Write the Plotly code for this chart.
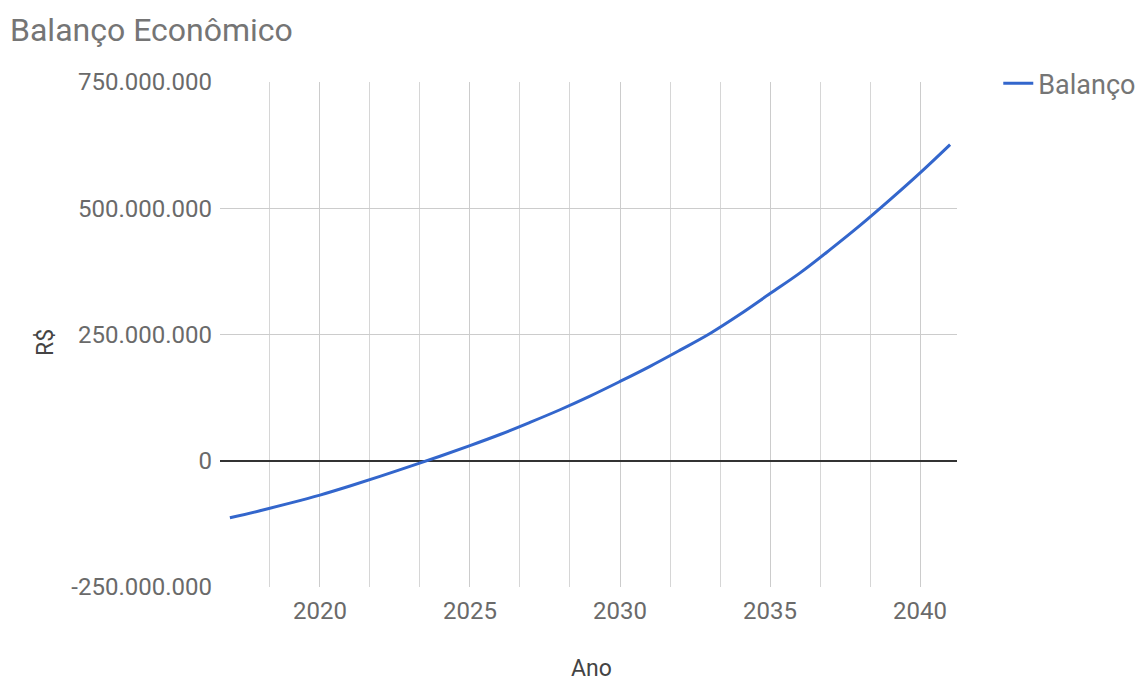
import plotly.graph_objects as go

anos = [2017, 2018, 2019, 2020, 2021, 2022, 2023, 2024, 2025, 2026, 2027, 2028,
        2029, 2030, 2031, 2032, 2033, 2034, 2035, 2036, 2037, 2038, 2039, 2040, 2041]
balanco = [-113_000_000, -99_000_000, -84_000_000, -68_000_000, -50_000_000,
           -31_000_000, -11_000_000, 9_000_000, 30_000_000, 52_000_000,
           76_000_000, 101_000_000, 128_000_000, 157_000_000, 187_000_000,
           219_000_000, 252_000_000, 290_000_000, 331_000_000, 372_000_000,
           418_000_000, 466_000_000, 517_000_000, 570_000_000, 626_000_000]
y_ticks = [-250_000_000, 0, 250_000_000, 500_000_000, 750_000_000]
y_ticktext = ["-250.000.000", "0", "250.000.000", "500.000.000", "750.000.000"]
x_ticks = [2020, 2025, 2030, 2035, 2040]

FONT = "Roboto"
fig = go.Figure()
fig.add_trace(go.Scatter(
    x=anos, y=balanco, mode="lines", name="Balanço",
    line=dict(color="#3366cc", width=3, shape="spline"),
))

fig.update_layout(
    width=1144, height=681,
    paper_bgcolor="white", plot_bgcolor="white",
    margin=dict(l=220, r=187, t=82, b=94, autoexpand=False),
    separators=",.",
    font=dict(family=FONT, size=24, color="#6a6a6a"),
    title=dict(text="Balanço Econômico", x=10/1144, xref="container", xanchor="left",
               y=1 - 30/681, yref="container", yanchor="middle",
               font=dict(family=FONT, size=32, color="#757575")),
    showlegend=True,
    legend=dict(x=1.056, xanchor="left", y=1.045, yanchor="top",
                font=dict(family=FONT, size=27, color="#757575"),
                bgcolor="rgba(0,0,0,0)"),
    xaxis=dict(
        range=[2016.67, 2041.23], tickvals=x_ticks, ticktext=[str(v) for v in x_ticks],
        showgrid=True, gridcolor="#cccccc", gridwidth=1,
        minor=dict(dtick=5/3, tick0=2020, showgrid=True, gridcolor="#d6d6d6", gridwidth=1),
        zeroline=False, showline=False, ticks="", ticklabelstandoff=7,
    ),
    yaxis=dict(
        range=[-250_000_000, 750_000_000], tickvals=y_ticks, ticktext=y_ticktext,
        showgrid=True, gridcolor="#cccccc", gridwidth=1,
        zeroline=True, zerolinecolor="#333333", zerolinewidth=1.5,
        showline=False, ticks="", ticklabelstandoff=7,
    ),
)

fig.add_annotation(text="R$", xref="paper", yref="paper",
                   x=-(220-45)/737, y=(587-343)/505, showarrow=False,
                   textangle=-90, font=dict(family=FONT, size=23, color="#444444"),
                   xanchor="center", yanchor="middle")
fig.add_annotation(text="Ano", xref="paper", yref="paper",
                   x=(591-220)/737, y=-(668-587)/505, showarrow=False,
                   font=dict(family=FONT, size=23, color="#444444"),
                   xanchor="center", yanchor="middle")

fig.write_html("out.html")
